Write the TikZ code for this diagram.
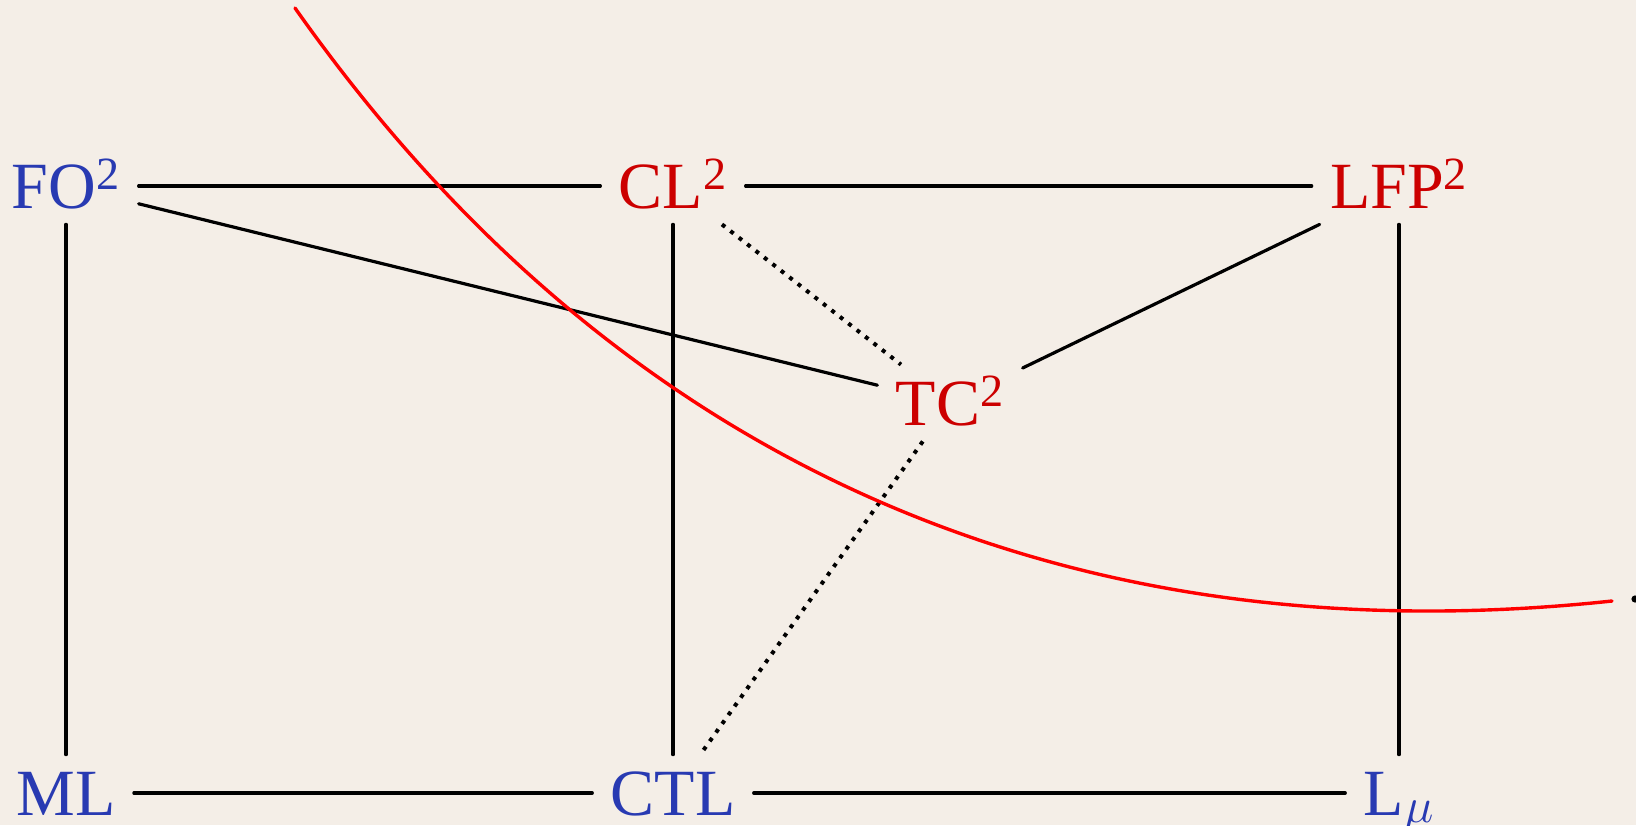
\documentclass[tikz,border=0pt]{standalone}
\usepackage{fontspec}
\setmainfont{Liberation Serif}
\usepackage{tikz}
\definecolor{paper}{RGB}{244,238,231}
\definecolor{logicblue}{RGB}{40,58,178}
\definecolor{logicred}{RGB}{204,0,0}
\tikzset{
  logic/.style={
    font=\fontsize{33}{40}\selectfont,
    text height=22pt, text depth=0pt,
    inner xsep=9pt, inner ysep=8pt
  },
  modal/.style={logic, text=logicblue},
  twovar/.style={logic, text=logicred},
  link/.style={line width=1.6pt, line cap=round},
  weak/.style={line width=2pt, dash pattern=on 2pt off 3.35pt},
  border/.style={line width=1.7pt, red, line cap=round}
}
\begin{document}
\begin{tikzpicture}[x=0.5pt, y=-0.5pt]

\fill[paper] (0,0) rectangle (1636,825);
\useasboundingbox (0,0) rectangle (1636,825);

%% top row
\node[modal]  (fo)  at (66,186)   {FO\textsuperscript{2}};
\node[twovar] (cl)  at (673,186)  {CL\textsuperscript{2}};
\node[twovar] (lfp) at (1399,186) {LFP\textsuperscript{2}};

%% middle
\node[twovar] (tc)  at (950,403)  {TC\textsuperscript{2}};

%% bottom row
\node[modal]  (ml)  at (66,793)   {ML};
\node[modal]  (ctl) at (673,793)  {CTL};
\node[modal]  (lmu) at (1399,793) {L$_\mu$};

%% edges
\draw[link] (fo) -- (cl);
\draw[link] (cl) -- (lfp);
\draw[link] (ml) -- (ctl);
\draw[link] (ctl) -- (lmu);
\draw[link] (fo) -- (ml);
\draw[link] (cl) -- (ctl);
\draw[link] (lfp) -- (lmu);
\draw[link] (fo) -- (tc);
\draw[link] (lfp) -- (tc);
\draw[weak] (cl) -- (tc);
\draw[weak] (tc) -- (ctl);

%% decidability border
\coordinate (bstart) at (295,8);
\coordinate (bend)   at (1612,601);
\draw[border] (bstart) .. controls (612,458) and (1060,660) .. (bend);
\fill (1635,599) circle (1.8pt);

\end{tikzpicture}
\end{document}
